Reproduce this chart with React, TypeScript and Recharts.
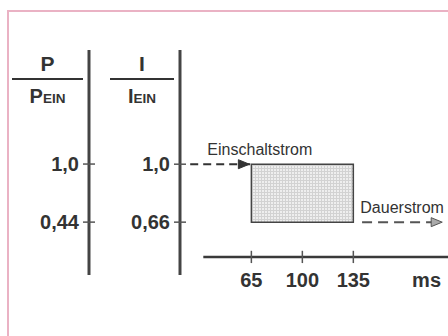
import React from "react";
import { ComposedChart, Line, XAxis, YAxis, ReferenceArea, ReferenceLine } from "recharts";

// time axis (ms)
const timeTicks = [65, 100, 135];
const timeUnit = "ms";

// P / P_EIN axis
const pTicks = [1.0, 0.44];
const pTickLabels = ["1,0", "0,44"];

// I / I_EIN axis
const iTicks = [1.0, 0.66];
const iTickLabels = ["1,0", "0,66"];

// inrush window and current levels
const inrushFrom = 65;
const inrushTo = 135;
const inrushLevel = 1.0;
const steadyLevel = 0.66;

// dashed arrows (t in ms, i relative current)
const inrushArrow = [
  { t: 23, i: 1.0 },
  { t: 65, i: 1.0 },
];
const steadyArrow = [
  { t: 141, i: 0.66 },
  { t: 196, i: 0.66 },
];

// drawn time axis: level on the I scale and extent in ms
const timeAxisLevel = 0.456;
const timeAxisFrom = 32;
const timeAxisTo = 200;

const FONT = '"Liberation Sans", Arial, sans-serif';
const INK = "#333";

function yTick(values: number[], labels: string[]) {
  return (props: any) => {
    const { x, y, payload } = props;
    const idx = values.indexOf(payload.value);
    return (
      <g>
        <line x1={x + 4} x2={x + 16} y1={y} y2={y} stroke="#555" strokeWidth={1.5} />
        <text x={x} y={y} dy={7} textAnchor="end" fontSize={20} fontWeight="bold" fill={INK} fontFamily={FONT}>
          {labels[idx]}
        </text>
      </g>
    );
  };
}

const TimeTick = (props: any) => (
  <text
    x={props.x}
    y={props.y + 12}
    textAnchor="middle"
    fontSize={20}
    fontWeight="bold"
    fill={INK}
    fontFamily={FONT}
  >
    {props.payload.value}
  </text>
);

function heading(num: string, lineW: number) {
  return (props: any) => {
    const vb = props.viewBox || {};
    const ax = vb.x + vb.width;
    const x2 = ax - 6;
    const x1 = x2 - lineW;
    const cx = (x1 + x2) / 2;
    const top = vb.y;
    return (
      <g fontFamily={FONT} fontWeight="bold" fill={INK}>
        <text x={cx} y={top + 21} textAnchor="middle" fontSize={21}>
          {num}
        </text>
        <line x1={x1} x2={x2} y1={top + 29} y2={top + 29} stroke={INK} strokeWidth={2} />
        <text x={cx} y={top + 53} textAnchor="middle" fontSize={20}>
          {num}
          <tspan fontSize={13.5}>EIN</tspan>
        </text>
      </g>
    );
  };
}

function arrowHead(n: number, fill: string, stroke: string, back: number) {
  return (props: any) => {
    const { cx, cy, index } = props;
    if (index !== n - 1) return <g key={`a${index}`} />;
    const tip = cx - back;
    return (
      <polygon
        key={`a${index}`}
        points={`${tip - 11},${cy - 4.5} ${tip},${cy} ${tip - 11},${cy + 4.5}`}
        fill={fill}
        stroke={stroke}
        strokeWidth={1}
      />
    );
  };
}

const areaLabels = (props: any) => {
  const vb = props.viewBox || {};
  return (
    <g fontFamily={FONT} fontSize={16} fill={INK}>
      <text x={vb.x - 44} y={vb.y - 9}>
        Einschaltstrom
      </text>
      <text x={vb.x + vb.width + 7} y={vb.y + vb.height - 9}>
        Dauerstrom
      </text>
    </g>
  );
};

const unitLabel = (props: any) => {
  const vb = props.viewBox || {};
  return (
    <text
      x={vb.x + vb.width - 7}
      y={vb.y + 12}
      textAnchor="end"
      fontSize={20}
      fontWeight="bold"
      fill={INK}
      fontFamily={FONT}
    >
      {timeUnit}
    </text>
  );
};

export default function App() {
  return (
    <div style={{ position: "absolute", left: 0, top: 0, width: 448, height: 336, background: "#fff", overflow: "hidden" }}>
      {/* pink scan frame */}
      <div
        style={{
          position: "absolute",
          left: 7,
          top: 10,
          width: 500,
          height: 400,
          borderLeft: "2px solid #eab2c4",
          borderTop: "2px solid #eab2c4",
        }}
      />
      <svg width={0} height={0} style={{ position: "absolute" }}>
        <defs>
          <pattern id="stipple" width={3} height={3} patternUnits="userSpaceOnUse">
            <rect width={3} height={3} fill="#eeeeee" />
            <path d="M0 0.5H3M0.5 0V3" stroke="#d2d2d2" strokeWidth={1} />
          </pattern>
        </defs>
      </svg>
      <div style={{ position: "absolute", left: 0, top: 0 }}>
        <ComposedChart width={448} height={336} margin={{ top: 50, right: 0, bottom: 31, left: 8 }}>
          <XAxis
            dataKey="t"
            type="number"
            domain={[16, 200]}
            allowDataOverflow
            ticks={timeTicks}
            axisLine={false}
            tickLine={false}
            tickSize={0}
            tickMargin={0}
            height={30}
            tick={<TimeTick />}
            label={{ content: unitLabel }}
          />
          <YAxis
            yAxisId="i"
            type="number"
            domain={[0.35, 1.67]}
            allowDataOverflow
            ticks={iTicks}
            width={91}
            tickSize={6}
            tickMargin={4}
            tickLine={false}
            axisLine={{ stroke: "#444", strokeWidth: 3 }}
            tick={yTick(iTicks, iTickLabels)}
            label={{ content: heading("I", 64) }}
          />
          <YAxis
            yAxisId="p"
            type="number"
            domain={[-0.07, 2.1]}
            allowDataOverflow
            ticks={pTicks}
            width={81}
            tickSize={6}
            tickMargin={4}
            tickLine={false}
            axisLine={{ stroke: "#444", strokeWidth: 3 }}
            tick={yTick(pTicks, pTickLabels)}
            label={{ content: heading("P", 71) }}
          />
          <ReferenceArea
            yAxisId="i"
            x1={inrushFrom}
            x2={inrushTo}
            y1={steadyLevel}
            y2={inrushLevel}
            fill="url(#stipple)"
            fillOpacity={1}
            stroke="#444"
            strokeWidth={1.5}
            label={{ content: areaLabels }}
          />
          <ReferenceLine
            yAxisId="i"
            segment={[
              { x: timeAxisFrom, y: timeAxisLevel },
              { x: timeAxisTo, y: timeAxisLevel },
            ]}
            stroke="#3a3a3a"
            strokeWidth={2.5}
          />
          {timeTicks.map((t) => (
            <ReferenceLine
              key={t}
              yAxisId="i"
              segment={[
                { x: t, y: timeAxisLevel - 0.036 },
                { x: t, y: timeAxisLevel + 0.036 },
              ]}
              stroke="#555"
              strokeWidth={1.5}
            />
          ))}
          <Line
            yAxisId="i"
            data={inrushArrow}
            dataKey="i"
            stroke="#333"
            strokeWidth={2}
            strokeDasharray="8 5"
            dot={arrowHead(inrushArrow.length, "#333", "#333", 2)}
            activeDot={false}
            isAnimationActive={false}
          />
          <Line
            yAxisId="i"
            data={steadyArrow}
            dataKey="i"
            stroke="#555"
            strokeWidth={2}
            strokeDasharray="10 6"
            dot={arrowHead(steadyArrow.length, "#aaa", "#555", 0)}
            activeDot={false}
            isAnimationActive={false}
          />
        </ComposedChart>
      </div>
    </div>
  );
}
